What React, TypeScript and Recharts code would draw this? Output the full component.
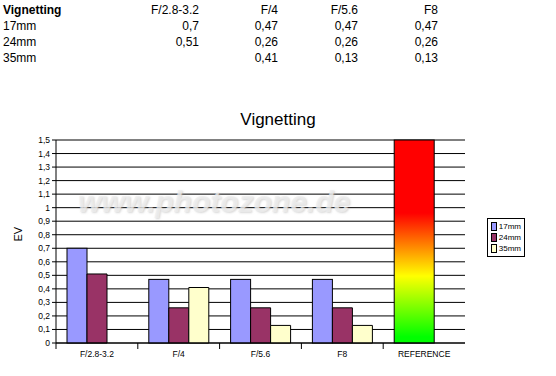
import { BarChart, Bar, XAxis, YAxis, CartesianGrid } from 'recharts'

const apertures = ['F/2.8-3.2', 'F/4', 'F/5.6', 'F8']
const categories = [...apertures, 'REFERENCE']
const series17 = [0.7, 0.47, 0.47, 0.47]
const series24 = [0.51, 0.26, 0.26, 0.26]
const series35: (number | null)[] = [null, 0.41, 0.13, 0.13]
const referenceValue = 1.5
const yTicks = [0, 0.1, 0.2, 0.3, 0.4, 0.5, 0.6, 0.7, 0.8, 0.9, 1, 1.1, 1.2, 1.3, 1.4, 1.5]

const seriesNames = ['17mm', '24mm', '35mm']
const seriesColors = ['#9999ff', '#993366', '#ffffcc']
const FONT = '"Liberation Sans", Arial, sans-serif'

const data = categories.map((c, i) => ({
  category: c,
  s17: i < apertures.length ? series17[i] : referenceValue,
  s24: i < apertures.length ? series24[i] : null,
  s35: i < apertures.length ? series35[i] : null,
}))

const comma = (v: number | null) => (v == null ? '' : String(v).replace('.', ','))

// the reference bar takes two bar slots and gets the red-yellow-green fill
function FirstBarShape(props: any) {
  const { x, y, width, height, payload } = props
  if (payload?.category === 'REFERENCE') {
    return <rect x={x} y={y} width={width * 2} height={height} fill="url(#refGrad)" stroke="#000" strokeWidth={1} />
  }
  return <rect x={x} y={y} width={width} height={height} fill={seriesColors[0]} stroke="#000" strokeWidth={1} />
}

function CategoryTick(props: any) {
  const { x, y, payload } = props
  const half = payload?.offset ?? 41
  return (
    <g>
      <line x1={x - half} x2={x - half} y1={343} y2={349} stroke="#000" />
      <text x={x} y={y + 6} textAnchor="middle" fontSize={8.5} fontFamily={FONT} fill="#000">
        {payload.value}
      </text>
    </g>
  )
}

function LegendBox() {
  return (
    <div style={{ position: 'absolute', left: 487, top: 218, border: '1px solid #000', background: '#fff', padding: '2px 3px', width: 30 }}>
      {seriesNames.map((n, i) => (
        <div key={n} style={{ display: 'flex', alignItems: 'center', height: 11, fontSize: 8, fontFamily: FONT }}>
          <span style={{ width: 7, height: 7, background: seriesColors[i], border: '1px solid #000', marginRight: 2, display: 'inline-block' }} />
          {n}
        </div>
      ))}
    </div>
  )
}

const tableRows = [
  { label: '17mm', values: series17 as (number | null)[] },
  { label: '24mm', values: series24 as (number | null)[] },
  { label: '35mm', values: series35 },
]
const colRight = [199, 278, 358, 438]

export default function App() {
  return (
    <div style={{ position: 'absolute', left: 0, top: 0, width: 556, height: 376, background: '#fff', fontFamily: FONT }}>
      {/* table above the chart */}
      <div style={{ position: 'absolute', left: 3, top: 3, fontSize: 12, fontWeight: 'bold' }}>Vignetting</div>
      {apertures.map((a, i) => (
        <div key={a} style={{ position: 'absolute', right: 556 - colRight[i], top: 3, fontSize: 12 }}>{a}</div>
      ))}
      {tableRows.map((r, ri) => (
        <div key={r.label}>
          <div style={{ position: 'absolute', left: 3, top: 19 + ri * 16, fontSize: 12 }}>{r.label}</div>
          {r.values.map((v, i) => (
            <div key={i} style={{ position: 'absolute', right: 556 - colRight[i], top: 19 + ri * 16, fontSize: 12 }}>{comma(v)}</div>
          ))}
        </div>
      ))}
      <div style={{ position: 'absolute', left: 0, width: 556, top: 110, textAlign: 'center', fontSize: 17 }}>Vignetting</div>
      <BarChart
        width={556}
        height={376}
        data={data}
        margin={{ top: 140, right: 91, bottom: 13, left: 22 }}
        barSize={20}
        barGap={0}
      >
        <defs>
          <linearGradient id="refGrad" x1="0" y1="0" x2="0" y2="1">
            <stop offset="0%" stopColor="#ff0000" />
            <stop offset="36%" stopColor="#ff0000" />
            <stop offset="67%" stopColor="#ffff00" />
            <stop offset="97%" stopColor="#00ff00" />
            <stop offset="100%" stopColor="#00ff00" />
          </linearGradient>
        </defs>
        <CartesianGrid vertical={false} stroke="#000" />
        <XAxis
          dataKey="category"
          interval={0}
          tickLine={false}
          axisLine={{ stroke: '#000' }}
          tick={<CategoryTick />}
          height={20}
        />
        <YAxis
          domain={[0, 1.5]}
          ticks={yTicks}
          interval={0}
          width={34}
          tickSize={4}
          tickLine={{ stroke: '#000' }}
          axisLine={{ stroke: '#000' }}
          tickFormatter={(v: number) => comma(v)}
          tick={{ fontSize: 8.5, fontFamily: FONT, fill: '#000' }}
          label={{ value: 'EV', angle: -90, position: 'insideLeft', offset: -4, fontSize: 11, fontFamily: FONT, fill: '#000' }}
        />
        <Bar dataKey="s17" name={seriesNames[0]} fill={seriesColors[0]} shape={<FirstBarShape />} isAnimationActive={false} />
        <Bar dataKey="s24" name={seriesNames[1]} fill={seriesColors[1]} stroke="#000" isAnimationActive={false} />
        <Bar dataKey="s35" name={seriesNames[2]} fill={seriesColors[2]} stroke="#000" isAnimationActive={false} />
      </BarChart>
      <LegendBox />
      <div
        style={{
          position: 'absolute',
          left: 78,
          top: 185,
          fontSize: 30,
          fontWeight: 'bold',
          fontStyle: 'italic',
          color: 'rgba(238,238,238,0.75)',
          textShadow: '1px 1px 2px rgba(180,180,180,0.5)',
          pointerEvents: 'none',
        }}
      >
        www.photozone.de
      </div>
    </div>
  )
}
